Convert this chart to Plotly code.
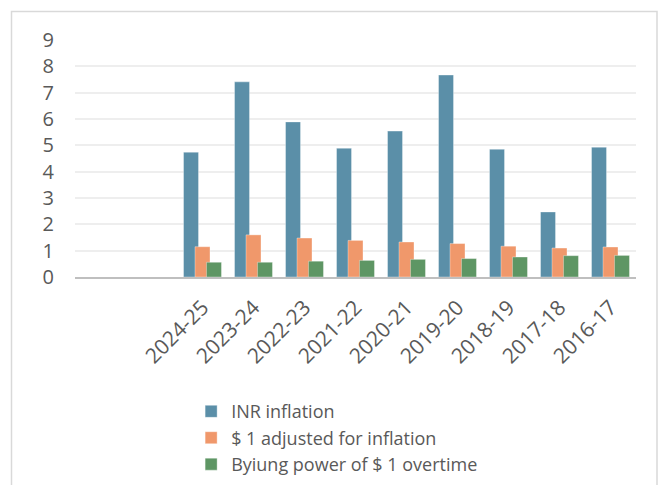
import plotly.graph_objects as go

categories = ["2024-25", "2023-24", "2022-23", "2021-22", "2020-21",
              "2019-20", "2018-19", "2017-18", "2016-17"]
blank_slots = [" ", "  "]
inr_inflation = [4.74, 7.41, 5.89, 4.89, 5.54, 7.67, 4.85, 2.47, 4.93]
usd_adjusted = [1.15, 1.60, 1.48, 1.39, 1.33, 1.27, 1.17, 1.10, 1.14]
buying_power = [0.56, 0.56, 0.60, 0.63, 0.67, 0.70, 0.76, 0.81, 0.82]
y_ticks = list(range(0, 10))

series = [
    ("INR inflation", inr_inflation, "#5b8fa8", -0.372),
    ("$ 1 adjusted for inflation", usd_adjusted, "#f0986b", -0.147),
    ("Byiung power of $ 1 overtime", buying_power, "#5e9664", 0.078),
]

font = "Open Sans, sans-serif"
grey = "#595959"

fig = go.Figure()
for name, vals, color, off in series:
    fig.add_trace(go.Bar(
        x=categories, y=vals, name=name,
        marker=dict(color=color, line=dict(color="rgba(255,255,255,0.35)", width=1)),
        width=0.294, offset=off,
    ))

px0 = lambda px: (px - 75) / 561
py0 = lambda py: (277 - py) / 237

fig.update_layout(
    width=669, height=485,
    margin=dict(l=75, r=33, t=40, b=208, autoexpand=False),
    paper_bgcolor="white", plot_bgcolor="white",
    barmode="overlay",
    showlegend=True,
    legend=dict(
        x=0.207, y=-0.49, xanchor="left", yanchor="top",
        font=dict(family=font, size=18, color=grey),
        tracegroupgap=0, itemwidth=30,
        bgcolor="rgba(0,0,0,0)",
    ),
    xaxis=dict(
        type="category",
        categoryorder="array",
        categoryarray=blank_slots + categories,
        range=[-0.5, 10.5],
        tickangle=-45,
        tickfont=dict(family=font, size=21, color=grey),
        showgrid=False,
        showline=True, linecolor="#bfbfbf", linewidth=2,
        ticks="", ticklabelstandoff=8, automargin=False,
    ),
    yaxis=dict(
        range=[0, 9],
        tickvals=y_ticks,
        tickfont=dict(family=font, size=20, color=grey),
        showgrid=True, gridcolor="#eeeeee", gridwidth=1.5,
        zeroline=False, ticks="", ticklabelstandoff=20,
        showline=False, automargin=False,
    ),
    shapes=[
        dict(type="path", xref="paper", yref="paper",
             path=(f"M {px0(11.5)} {py0(490)} L {px0(11.5)} {py0(11.5)} "
                   f"L {px0(657)} {py0(11.5)} L {px0(657)} {py0(490)}"),
             line=dict(color="#d9d9d9", width=1.5)),
    ],
)

fig.write_html("out.html")
